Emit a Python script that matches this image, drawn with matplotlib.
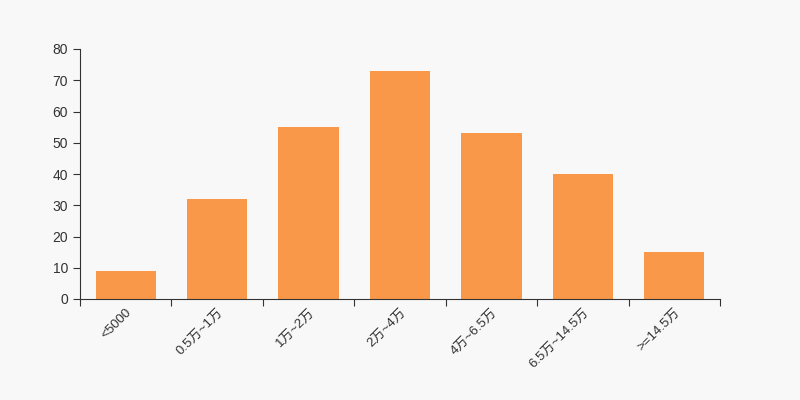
import numpy as np
import matplotlib.pyplot as plt

plt.rcParams['font.family'] = ['Liberation Sans', 'Noto Sans CJK SC', 'DejaVu Sans']

categories = ['<5000', '0.5万~1万', '1万~2万', '2万~4万', '4万~6.5万', '6.5万~14.5万', '>=14.5万']
values = [9, 32, 55, 73, 53, 40, 15]

bg = '#f8f8f8'
fig = plt.figure(figsize=(8, 4), dpi=100, facecolor=bg)
ax = fig.add_axes([0.1, 0.2525, 0.8, 0.625], facecolor=bg)

x = np.arange(len(categories))
ax.bar(x, values, width=0.66, color='#f89848')

ax.set_xlim(-0.5, len(categories) - 0.5)
ax.set_ylim(0, 80)
ax.set_yticks(range(0, 81, 10))

# ticks on category boundaries, labels at centres
ax.set_xticks(np.arange(-0.5, len(categories), 1.0))
ax.set_xticklabels([])
ax.set_xticks(x, minor=True)
ax.set_xticklabels(categories, minor=True, rotation=45, ha='right',
                   rotation_mode='anchor', fontsize=9.5, color='#333333')
ax.tick_params(axis='x', which='minor', length=0, pad=5)
ax.tick_params(axis='both', which='major', length=5, color='#333333',
               labelsize=10, labelcolor='#333333')

for s in ['top', 'right']:
    ax.spines[s].set_visible(False)
for s in ['left', 'bottom']:
    ax.spines[s].set_color('#333333')

fig.savefig('out.png', dpi=100, facecolor=bg)
